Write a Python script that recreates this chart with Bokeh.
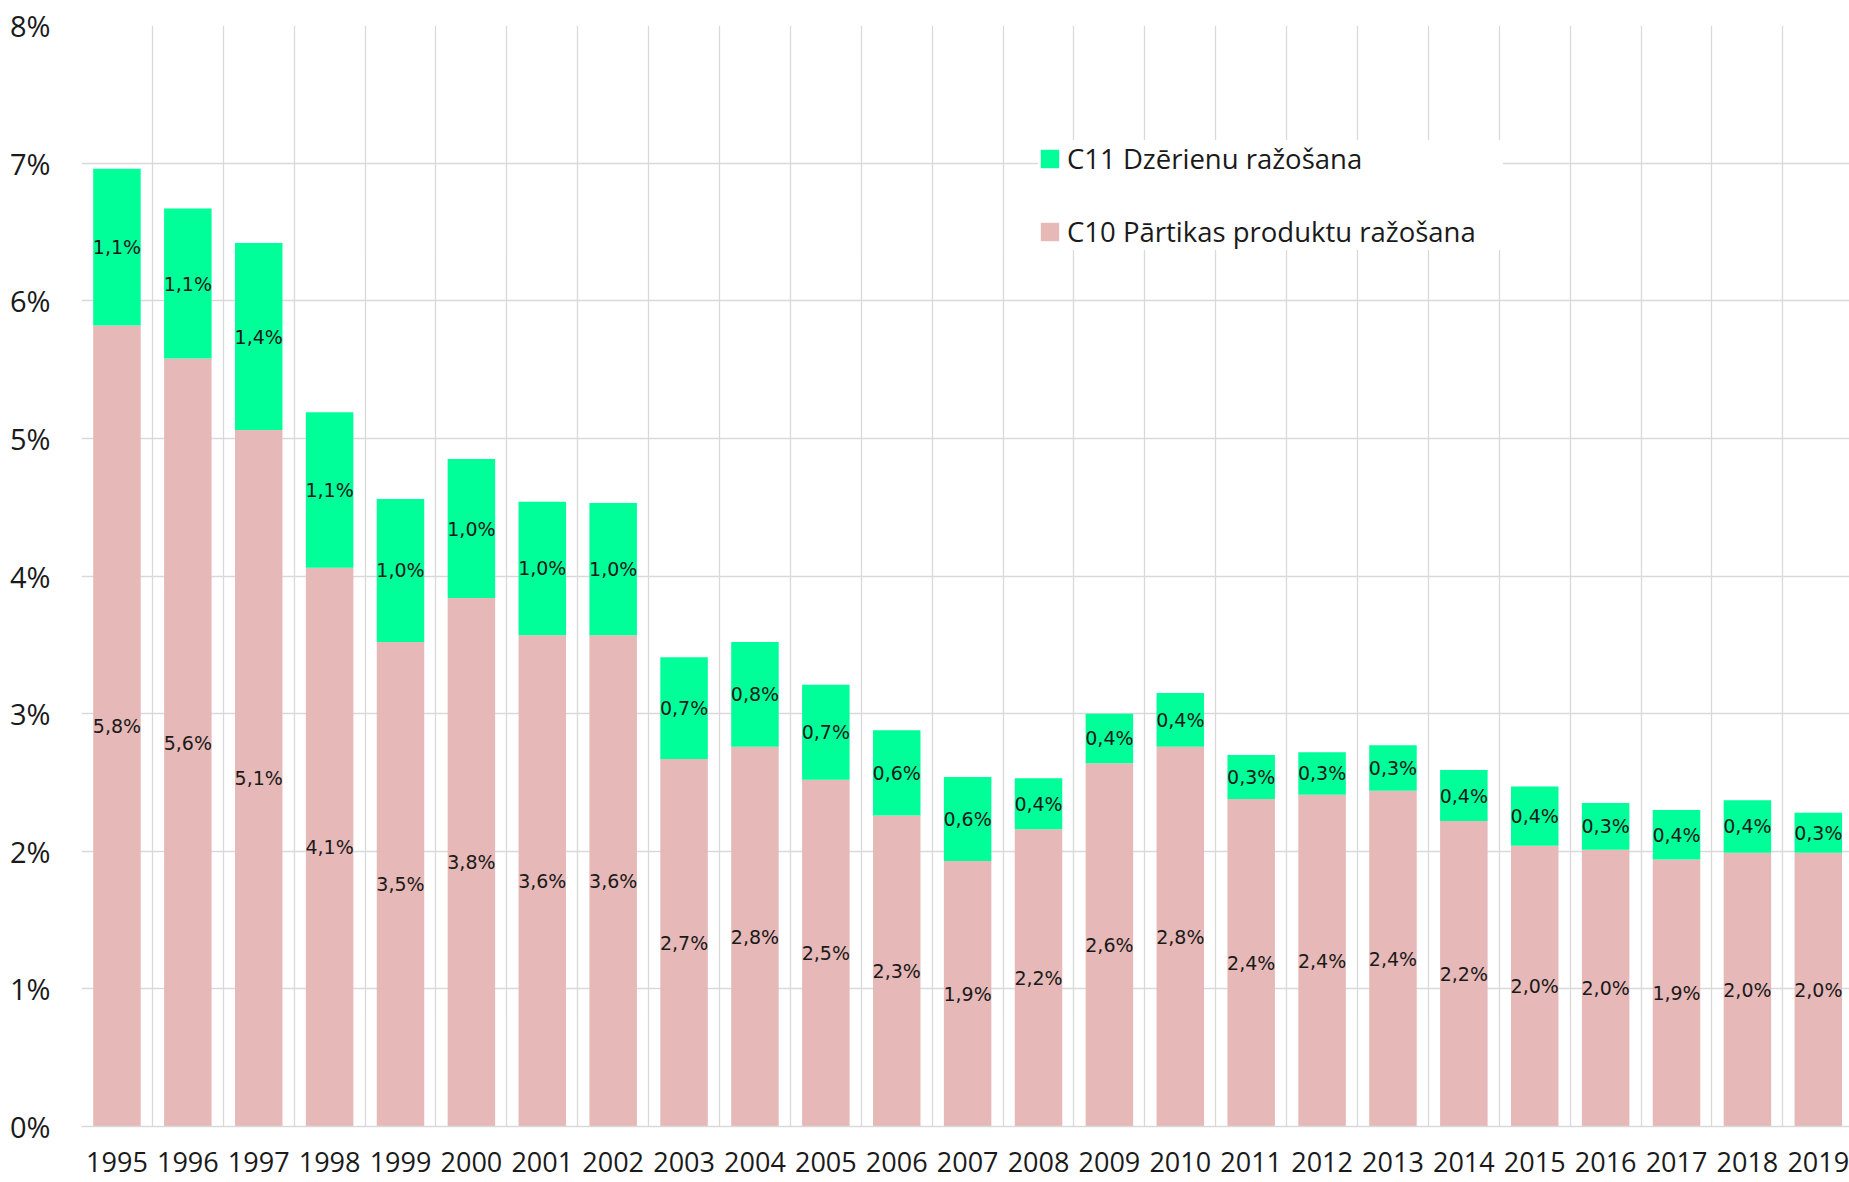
from bokeh.plotting import figure
from bokeh.models import ColumnDataSource, FixedTicker, Legend, LegendItem
from bokeh.embed import file_html
from bokeh.resources import INLINE
from bokeh.core.properties import value

# ---- data ----
years = [1995, 1996, 1997, 1998, 1999, 2000, 2001, 2002, 2003, 2004, 2005, 2006,
         2007, 2008, 2009, 2010, 2011, 2012, 2013, 2014, 2015, 2016, 2017, 2018, 2019]
year_labels = [str(y) for y in years]
c10 = [5.82, 5.58, 5.06, 4.06, 3.52, 3.84, 3.57, 3.57, 2.67, 2.76, 2.52, 2.26,
       1.93, 2.16, 2.64, 2.76, 2.38, 2.41, 2.44, 2.22, 2.04, 2.01, 1.94, 1.99, 1.99]
c11 = [1.14, 1.09, 1.36, 1.13, 1.04, 1.01, 0.97, 0.96, 0.74, 0.76, 0.69, 0.62,
       0.61, 0.37, 0.36, 0.39, 0.32, 0.31, 0.33, 0.37, 0.43, 0.34, 0.36, 0.38, 0.29]
name_c10 = "C10 Pārtikas produktu ražošana"
name_c11 = "C11 Dzērienu ražošana"
y_ticks = [0, 1, 2, 3, 4, 5, 6, 7, 8]

COL_C10 = "#E6B8B7"
COL_C11 = "#00FF99"
GRID = "#D9D9D9"
TXT = "#1a1a1a"


def pct(v):
    return f"{v:.1f}".replace(".", ",") + "%"


src = ColumnDataSource(dict(
    year=years, c10=c10, c11=c11,
    c10_mid=[a / 2 for a in c10],
    c11_mid=[a + b / 2 for a, b in zip(c10, c11)],
    c10_lbl=[pct(a) for a in c10],
    c11_lbl=[pct(b) for b in c11],
))

p = figure(width=1849, height=1182, output_backend="svg", toolbar_location=None,
           x_range=(years[0] - 0.5, years[-1] + 0.44), y_range=(0, 8),
           min_border_left=81, min_border_right=0, min_border_top=25, min_border_bottom=56)
p.outline_line_color = None
p.background_fill_color = "white"
p.border_fill_color = "white"

rs = p.vbar_stack(["c10", "c11"], x="year", width=0.67, source=src,
                  color=[COL_C10, COL_C11], line_color=None)

p.text(x="year", y="c10_mid", text="c10_lbl", source=src,
       text_font=value("DejaVu Sans"), text_font_size="19px", text_color=TXT,
       text_align="center", text_baseline="middle")
p.text(x="year", y="c11_mid", text="c11_lbl", source=src,
       text_font=value("DejaVu Sans"), text_font_size="19px", text_color=TXT,
       text_align="center", text_baseline="middle")

# y axis
p.yaxis.ticker = FixedTicker(ticks=y_ticks)
p.yaxis.major_label_overrides = {t: f"{t}%" for t in y_ticks}
p.yaxis.axis_line_color = None
p.yaxis.major_tick_line_color = None
p.yaxis.minor_tick_line_color = None
p.yaxis.major_tick_out = 0
p.yaxis.major_tick_in = 0
p.yaxis.major_label_standoff = 31
p.yaxis.major_label_text_font = "Open Sans"
p.yaxis.major_label_text_font_size = "29px"
p.yaxis.major_label_text_color = TXT

# x axis
p.xaxis.ticker = FixedTicker(ticks=years)
p.xaxis.major_label_overrides = {y: s for y, s in zip(years, year_labels)}
p.xaxis.axis_line_color = GRID
p.xaxis.axis_line_width = 1.3
p.xaxis.major_tick_line_color = None
p.xaxis.minor_tick_line_color = None
p.xaxis.major_tick_out = 0
p.xaxis.major_tick_in = 0
p.xaxis.major_label_standoff = 25
p.xaxis.major_label_text_font = "Open Sans"
p.xaxis.major_label_text_font_size = "27px"
p.xaxis.major_label_text_line_height = 0.7
p.xaxis.major_label_text_color = TXT

# grids
p.ygrid.ticker = FixedTicker(ticks=y_ticks[1:-1])
p.ygrid.grid_line_color = GRID
p.ygrid.grid_line_width = 1.3
p.xgrid.ticker = FixedTicker(ticks=[y + 0.5 for y in years[:-1]])
p.xgrid.grid_line_color = GRID
p.xgrid.grid_line_width = 1.3

legend = Legend(items=[LegendItem(label=name_c11, renderers=[rs[1]]),
                       LegendItem(label=name_c10, renderers=[rs[0]])],
                location=(957, 876), orientation="vertical",
                label_text_font="Open Sans", label_text_font_size="27.5px",
                label_text_color=TXT, glyph_width=23, glyph_height=23,
                label_standoff=6, spacing=36, padding=17, margin=0,
                label_width=436,
                border_line_color=None, background_fill_color="white",
                background_fill_alpha=1.0)
p.add_layout(legend)

open("out.html", "w").write(file_html(p, INLINE))
